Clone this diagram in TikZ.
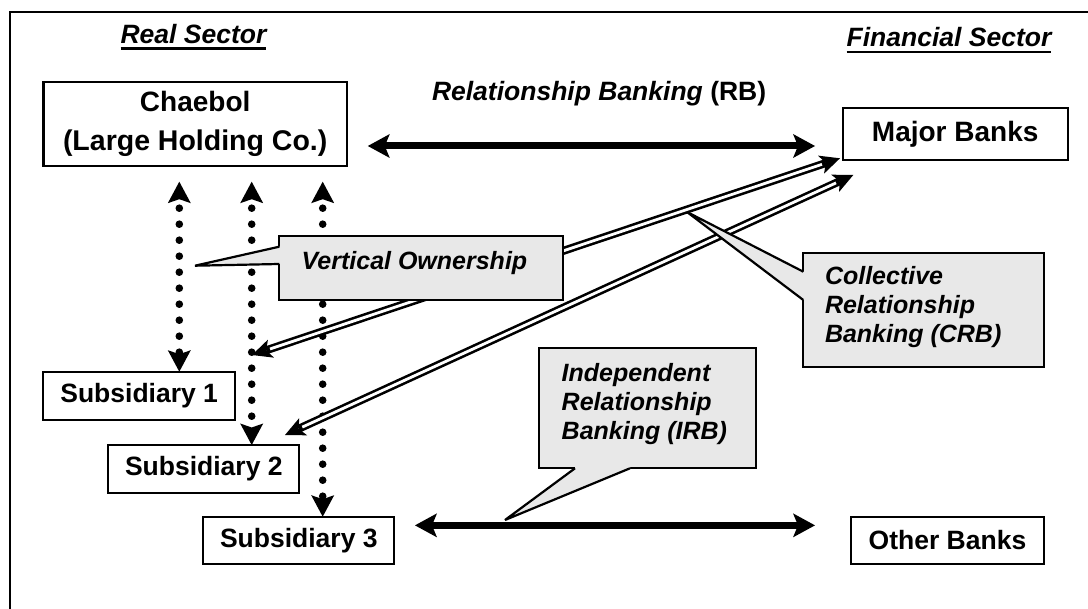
\documentclass[tikz,border=0pt]{standalone}
\usepackage{fontspec}
\setmainfont{Liberation Sans}
\usetikzlibrary{arrows.meta,calc}
\definecolor{callgray}{RGB}{232,232,232}
\begin{document}
\begin{tikzpicture}[x=1pt,y=-1pt,
  box/.style={draw, line width=2.2pt, inner sep=0pt, outer sep=0pt, align=center,
    font=\fontsize{26.5}{32}\selectfont\bfseries},
  callbox/.style={draw, line width=2.2pt, fill=callgray, inner sep=0pt, outer sep=0pt},
  calltext/.style={inner sep=0pt, outer sep=0pt, align=left,
    font=\fontsize{25}{28.8}\selectfont\bfseries\itshape},
  head/.style={inner sep=0pt, outer sep=0pt, font=\fontsize{26.5}{30}\selectfont\bfseries\itshape},
  ptr/.style={line width=2.2pt, line join=bevel},
  thickarr/.style={line width=7pt,
    >={Stealth[length=22pt,width=24pt,inset=5pt,line width=0pt]}, <->},
  dotarr/.style={line width=7.6pt, line cap=round, dash pattern=on 0pt off 16pt, dash phase=7pt,
    >={Stealth[length=21.5pt,width=23pt,inset=4pt,line width=0pt]}, <->},
  dblout/.style={line width=8pt,
    >={Stealth[length=20pt,width=19pt,inset=5pt,line width=0pt]}, <->},
  dblin/.style={line width=2.8pt, white, shorten <=19pt, shorten >=19pt}
]
\useasboundingbox (0,0) rectangle (1088,609);
\clip (0,0) rectangle (1088,609);

% frame
\draw[line width=2pt] (10.4,640) -- (10.4,12) -- (1120,12);

% headings
\node[head, anchor=base] (rs) at (193.5,43.4) {Real Sector};
\draw[line width=2.4pt] ([yshift=-5.2pt]rs.base west) -- ([yshift=-5.2pt]rs.base east);
\node[head, anchor=base] (fs) at (949,46.8) {Financial Sector};
\draw[line width=2.4pt] ([yshift=-5.2pt]fs.base west) -- ([yshift=-5.2pt]fs.base east);

\node[inner sep=0pt, outer sep=0pt, anchor=base west, font=\fontsize{26.5}{30}\selectfont\bfseries]
  (rbl) at (432,101) {\itshape Relationship Banking \upshape(RB)};

% boxes
\node[box, minimum width=303.6pt, minimum height=83.8pt] (chaebol) at (195.2,124.1)
  {\fontsize{28}{32}\selectfont Chaebol\\[7pt]{\fontsize{28.5}{32}\selectfont (Large Holding Co.)}};
\node[box, minimum width=225pt, minimum height=51.7pt, font=\fontsize{28}{32}\selectfont\bfseries]
  (major) at (955.2,134.15) {Major Banks};
\node[box, minimum width=191.7pt, minimum height=48.3pt] (sub1) at (139.15,395.85) {Subsidiary 1};
\node[box, minimum width=191pt, minimum height=47.7pt] (sub2) at (203.8,468.85) {Subsidiary 2};
\node[box, minimum width=191pt, minimum height=47.3pt] (sub3) at (298.8,540.35) {Subsidiary 3};
\node[box, minimum width=193pt, minimum height=47.3pt] (other) at (947.5,540.35) {Other Banks};

% vertical ownership dotted arrows
\coordinate (v1) at (179.3,181.7);
\coordinate (v2) at (251.7,181.7);
\coordinate (v3) at (322.7,181.7);
\draw[dotarr] (v1) -- (v1 |- sub1.north);
\draw[dotarr] (v2) -- (v2 |- sub2.north);
\draw[dotarr] (v3) -- (v3 |- sub3.north);

% collective relationship banking double arrows
\coordinate (a1) at (252,355);
\coordinate (a2) at ([xshift=-2.7pt,yshift=1.7pt]major.south west);
\coordinate (b1) at ([xshift=-14.3pt,yshift=10pt]sub2.north east);
\coordinate (b2) at ([xshift=10.6pt,yshift=-15pt]major.south west);
\draw[dblout] (a1) -- (a2);
\draw[dblin] (a1) -- (a2);
\draw[dblout] (b1) -- (b2);
\draw[dblin] (b1) -- (b2);

% thick relationship arrows
\draw[thickarr] ([xshift=20.8pt,yshift=-21.9pt]chaebol.east) -- ([xshift=-27.7pt,yshift=-11.85pt]major.west);
\draw[thickarr] ([xshift=20.7pt,yshift=15pt]sub3.east) -- ([xshift=-36pt,yshift=15pt]other.west);

% callout: Vertical Ownership
\node[callbox, minimum width=284pt, minimum height=64.3pt] (vo) at (421.3,267.85) {};
\coordinate (votip) at (195,265.7);
\fill[callgray] ($(vo.north west)+(0,11)$) -- (votip) -- ($(vo.north west)+(0,28.3)$)
  -- ($(vo.north west)+(3,28.3)$) -- ($(vo.north west)+(3,11)$) -- cycle;
\draw[ptr] ($(vo.north west)+(0,11)$) -- (votip) -- ($(vo.north west)+(0,28.3)$);
\node[calltext, anchor=base west] (votext) at (301.7,269.5) {Vertical Ownership};

% callout: CRB
\node[callbox, minimum width=240.7pt, minimum height=114.6pt] (crb) at (923.65,310) {};
\coordinate (crbtip) at (687,212);
\fill[callgray] ($(crb.north west)+(0,19)$) -- (crbtip) -- ($(crb.north west)+(0,47.3)$)
  -- ($(crb.north west)+(3,47.3)$) -- ($(crb.north west)+(3,19)$) -- cycle;
\draw[ptr] ($(crb.north west)+(0,19)$) -- (crbtip) -- ($(crb.north west)+(0,47.3)$);
\node[calltext, anchor=north west] (crbtext) at (825,266.8) {Collective\\Relationship\\Banking (CRB)};

% callout: IRB
\node[callbox, minimum width=216.7pt, minimum height=120pt] (irb) at (647.65,408.3) {};
\coordinate (irbtip) at (505,520);
\fill[callgray] ($(irb.south west)+(35.7,0)$) -- (irbtip) -- ($(irb.south west)+(90.7,0)$)
  -- ($(irb.south west)+(90.7,-3)$) -- ($(irb.south west)+(35.7,-3)$) -- cycle;
\draw[ptr] ($(irb.south west)+(35.7,0)$) -- (irbtip) -- ($(irb.south west)+(90.7,0)$);
\node[calltext, anchor=north west] (irbtext) at (561.7,363.8) {Independent\\Relationship\\Banking (IRB)};
\end{tikzpicture}
\end{document}
